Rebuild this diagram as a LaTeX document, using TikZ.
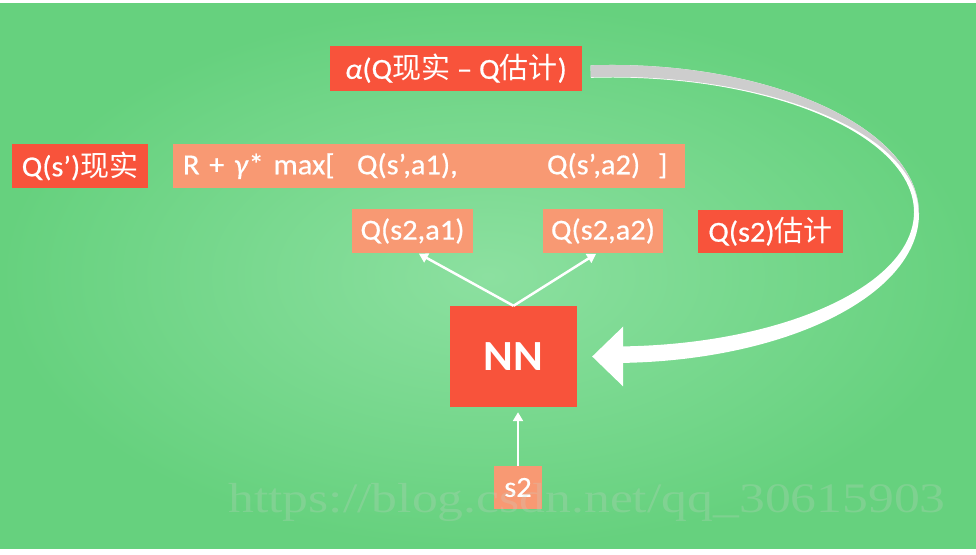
\documentclass[tikz,border=0pt]{standalone}
\usepackage{fontspec}
\setmainfont{Carlito}[FakeStretch=1.05, FakeBold=0.6]
\newfontfamily\cjk{Noto Sans CJK SC}[FakeStretch=1.0]
\newfontfamily\nnfont{Carlito}[FakeStretch=1.05]
\newfontfamily\markfont{Liberation Serif}[FakeStretch=1.23]
\usetikzlibrary{arrows.meta,calc}
\definecolor{bgin}{RGB}{140,224,160}
\definecolor{bgout}{RGB}{102,209,126}
\definecolor{redbox}{RGB}{248,83,59}
\definecolor{salmon}{RGB}{248,153,115}
\definecolor{ribbon}{RGB}{205,205,205}
\definecolor{markgray}{RGB}{200,210,200}

\begin{document}
\begin{tikzpicture}[x=1pt, y=1pt,
    hot/.style={fill=redbox, text=white, inner sep=0pt, minimum height=44pt,
      font=\fontsize{29}{34}\selectfont},
    warm/.style={hot, fill=salmon},
    flow/.style={draw=white, line width=2.5pt, -{Triangle[length=9pt,width=10pt]}}]
    \useasboundingbox (0,0) rectangle (976,554);
    \fill[white] (0,0) rectangle (976,554);
    \shade[inner color=bgin, outer color=bgout] (0,6) rectangle (976,550);
    \node[hot, minimum width=252pt, minimum height=45pt] (alpha) at (456, 485.5) {\textit{α}(Q{\cjk 现实} – Q{\cjk 估计})};
    \node[hot, minimum width=136pt] (qreal) at (80, 388) {Q(s’){\cjk 现实}};
    \node[warm, text width=492pt, inner xsep=10pt, align=left] (target) at (429, 388)
      {\makebox[174pt][l]{R + \textit{γ}* max[}\makebox[190pt][l]{Q(s’,a1),}\makebox[111pt][l]{Q(s’,a2)}]};
    \node[warm, minimum width=121pt] (qa1) at (412.5, 323) {Q(s2,a1)};
    \node[warm, minimum width=120pt] (qa2) at (603, 323) {Q(s2,a2)};
    \node[hot, minimum width=145pt, minimum height=43pt] (qest) at (770.5, 322.5) {Q(s2){\cjk 估计}};
    \node[hot, minimum width=127pt, minimum height=101pt, font=\nnfont\bfseries\fontsize{43}{50}\selectfont] (nn) at (513.5, 197.5) {NN};
    \node[warm, minimum width=48pt, minimum height=43pt] (s2) at (518, 66.5) {s2};
    \draw[flow, shorten >=1pt] (nn.north) to ([xshift=5.5pt]qa1.south);
    \draw[flow, shorten >=1pt] (nn.north) to ([xshift=-6pt]qa2.south);
    \draw[flow, shorten >=5pt] (s2.north) to (s2.north |- nn.south);
    % update loop
    \coordinate (loopout) at (612, 340);
    \coordinate (loopin) at (612, 342);
    \coordinate (tip) at ($(nn.east)+(15,0)$);
    \fill[white] ($(loopout)+(94:307pt and 149pt)$) arc[start angle=94, end angle=-90, x radius=307pt, y radius=149pt]
      -- ($(loopin)+(-90:302pt and 134.5pt)$) arc[start angle=-90, end angle=94, x radius=302pt, y radius=134.5pt] -- cycle;
    \fill[ribbon] ($(loopout)+(94:307pt and 149pt)$) arc[start angle=94, end angle=0, x radius=307pt, y radius=149pt]
      -- ($(loopin)+(0:306.5pt and 135.2pt)$) arc[start angle=0, end angle=94, x radius=306.5pt, y radius=135.2pt] -- cycle;
    \fill[white] (tip) -- ($(tip)+(31,30)$) -- ($(tip)+(31,-30)$) -- cycle;
    \node[font=\markfont\fontsize{42}{48}\selectfont, text=markgray, opacity=0.25] (mark) at (587, 52) {https://blog.csdn.net/qq\_30615903};
\end{tikzpicture}
\end{document}
